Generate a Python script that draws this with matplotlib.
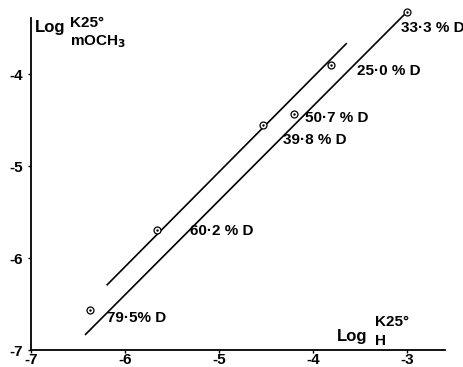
import matplotlib.pyplot as plt

# measured points: log K(H) vs log K(mOCH3)
log_kh = [-3.0, -3.81, -4.21, -4.53, -5.66, -6.37]
log_kmoch3 = [-3.32, -3.90, -4.43, -4.55, -5.70, -6.57]
pct_d = ["33·3 % D", "25·0 % D", "50·7 % D", "39·8 % D", "60·2 % D", "79·5% D"]

# two fitted lines (end points)
line_lower_x = [-6.42, -3.02]
line_lower_y = [-6.83, -3.34]
line_upper_x = [-6.19, -3.65]
line_upper_y = [-6.29, -3.67]

xticks = [-7, -6, -5, -4, -3]
yticks = [-7, -6, -5, -4]

plt.rcParams["font.family"] = ["Liberation Sans", "DejaVu Sans"]
fig = plt.figure(figsize=(4.64, 3.67), dpi=100)
ax = fig.add_axes([31 / 464, 17 / 367, 414 / 464, 332 / 367])

ax.plot(line_lower_x, line_lower_y, color="black", lw=1.2, clip_on=False)
ax.plot(line_upper_x, line_upper_y, color="black", lw=1.2)
ax.plot(log_kh, log_kmoch3, "o", ms=5, mfc="white", mec="black", mew=0.9,
        clip_on=False)
ax.plot(log_kh, log_kmoch3, ".", ms=1.5, color="black", clip_on=False)

# label offsets (data units) relative to each point
offsets = [(-0.07, -0.18), (0.27, -0.07), (0.12, -0.05), (0.21, -0.17),
           (0.35, -0.01), (0.18, -0.08)]
for x, y, s, (dx, dy) in zip(log_kh, log_kmoch3, pct_d, offsets):
    ax.text(x + dx, y + dy, s, fontsize=11, fontweight="bold",
            ha="left", va="center")

ax.set_xlim(-7, -2.6)
ax.set_ylim(-7, -3.39)
ax.set_xticks(xticks)
ax.set_yticks(yticks)
ax.set_xticklabels([str(t) for t in xticks], fontsize=11, fontweight="bold")
ax.set_yticklabels([str(t) for t in yticks], fontsize=11, fontweight="bold")
ax.tick_params(axis="x", length=2, width=1, pad=0)
ax.tick_params(axis="y", length=2, width=1, pad=4)
for side in ["top", "right"]:
    ax.spines[side].set_visible(False)
for side in ["left", "bottom"]:
    ax.spines[side].set_linewidth(1.3)

# axis titles
ax.text(0.01, 0.972, "Log", transform=ax.transAxes, fontsize=12,
        fontweight="bold", va="center")
ax.text(0.095, 0.985, "K25°", transform=ax.transAxes, fontsize=11,
        fontweight="bold", va="center")
ax.text(0.095, 0.93, "mOCH$_\\mathbf{3}$", transform=ax.transAxes, fontsize=11,
        fontweight="bold", va="center")

ax.text(0.74, 0.04, "Log", transform=ax.transAxes, fontsize=12,
        fontweight="bold", va="center")
ax.text(0.83, 0.085, "K25°", transform=ax.transAxes, fontsize=11,
        fontweight="bold", va="center")
ax.text(0.83, 0.028, "H", transform=ax.transAxes, fontsize=11,
        fontweight="bold", va="center")

fig.savefig("out.png", dpi=100)
